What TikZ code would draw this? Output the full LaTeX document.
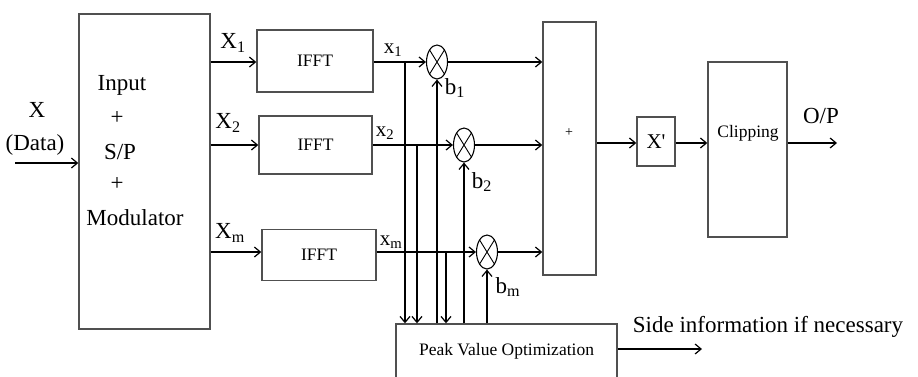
\documentclass[tikz,border=0pt]{standalone}
\usepackage{fontspec}
\setmainfont{Liberation Serif}
\usetikzlibrary{arrows.meta,shapes.geometric}
\definecolor{boxgray}{HTML}{505050}
\begin{document}
\begin{tikzpicture}[x=1pt,y=-1pt,
  box/.style={draw=boxgray,line width=1.4pt,inner sep=0pt},
  ar/.style={-{Straight Barb[length=6pt,width=10pt]},line width=1.2pt},
  mult/.style={draw,ellipse,line width=1.1pt,minimum width=21pt,minimum height=34pt,inner sep=0pt,
    path picture={\draw[line width=0.9pt] (path picture bounding box.north west)--(path picture bounding box.south east)
      (path picture bounding box.north east)--(path picture bounding box.south west);}},
  big/.style={font=\fontsize{23}{27}\selectfont,inner sep=0pt},
  mid/.style={font=\fontsize{21}{25}\selectfont,inner sep=0pt},
  sml/.style={font=\fontsize{17.5}{21}\selectfont,inner sep=0pt}]
\useasboundingbox (0,0) rectangle (918,376);
\clip (0,0) rectangle (918,376);
% rows
\coordinate (r1) at (0,62);
\coordinate (r2) at (0,145);
\coordinate (r3) at (0,252);
\coordinate (r4) at (0,143);
% main block
\node[box,minimum width=131pt,minimum height=315pt] (main) at (144.5,171.5) {};
\node[big] (tInput) at (122,85) {Input};
\node[big] (tp1) at (117,118) {+};
\node[big] (tsp) at (120,152) {S/P};
\node[big] (tp2) at (117,184) {+};
\node[big] (tmod) at (135,218) {Modulator};
\node[big] (lX) at (37,110) {X};
\node[big] (lD) at (35,145) {(Data)};
\coordinate (in) at (15,163);
\draw[ar] (in) -- (in -| main.west);
% IFFT blocks
\node[box,sml,minimum width=116pt,minimum height=62pt] (f1) at (315,61) {IFFT};
\node[box,sml,minimum width=113pt,minimum height=58pt] (f2) at (315.5,145) {IFFT};
\node[box,sml,minimum width=114pt,minimum height=51pt] (f3) at (319,255) {IFFT};
\draw[ar] (main.east |- r1) -- (f1.west |- r1);
\draw[ar] (main.east |- r2) -- (f2.west |- r2);
\draw[ar] (main.east |- r3) -- (f3.west |- r3);
\node[big] (lX1) at (233,43) {X\textsubscript{1}};
\node[big] (lX2) at (228,123) {X\textsubscript{2}};
\node[big] (lXm) at (230,233) {X\textsubscript{m}};
% multipliers
\node[mult] (m1) at (437,62) {};
\node[mult] (m2) at (464,145) {};
\node[mult] (m3) at (487,252) {};
\draw[ar] (f1.east |- r1) -- (m1.west);
\draw[ar] (f2.east |- r2) -- (m2.west);
\draw[ar] (f3.east |- r3) -- (m3.west);
\node[mid] (lx1) at (393,50) {x\textsubscript{1}};
\node[mid] (lx2) at (385,133) {x\textsubscript{2}};
\node[mid] (lxm) at (391,242) {x\textsubscript{m}};
\node[big] (lb1) at (455,88) {b\textsubscript{1}};
\node[big] (lb2) at (482,182) {b\textsubscript{2}};
\node[big] (lbm) at (508,287) {b\textsubscript{m}};
% summer
\node[box,minimum width=53pt,minimum height=253pt] (sum) at (569.5,148.5) {};
\node[font=\fontsize{14}{16}\selectfont,inner sep=0pt] (splus) at (569,133) {+};
\draw[ar] (m1.east) -- (sum.west |- m1.east);
\draw[ar] (m2.east) -- (sum.west |- m2.east);
\draw[ar] (m3.east) -- (sum.west |- m3.east);
% peak value optimization
\node[box,sml,minimum width=221pt,minimum height=54pt] (pvo) at (506.5,351) {Peak Value Optimization};
\coordinate (t1) at (405,62);
\coordinate (t2) at (417,145);
\coordinate (t3) at (446,252);
\draw[ar] (t1) -- (t1 |- pvo.north);
\draw[ar] (t2) -- (t2 |- pvo.north);
\draw[ar] (t3) -- (t3 |- pvo.north);
\draw[ar] (m1.south |- pvo.north) -- (m1.south);
\draw[ar] (m2.south |- pvo.north) -- (m2.south);
\draw[ar] (m3.south |- pvo.north) -- (m3.south);
\coordinate (si) at (702,349);
\draw[ar] (pvo.east |- si) -- (si);
\node[big] (lsi) at (768,327) {Side information if necessary};
% X' and clipping
\node[box,mid,minimum width=38pt,minimum height=49pt] (xp) at (656,141.5) {X\textquotesingle};
\node[box,minimum width=79pt,minimum height=175pt] (clp) at (747.5,149.5) {};
\node[sml] (tclp) at (748,133) {Clipping};
\draw[ar] (sum.east |- r4) -- (xp.west |- r4);
\draw[ar] (xp.east |- r4) -- (clp.west |- r4);
\coordinate (op) at (837,143);
\draw[ar] (clp.east |- r4) -- (op);
\node[big] (lop) at (821,116) {O/P};
\end{tikzpicture}
\end{document}
